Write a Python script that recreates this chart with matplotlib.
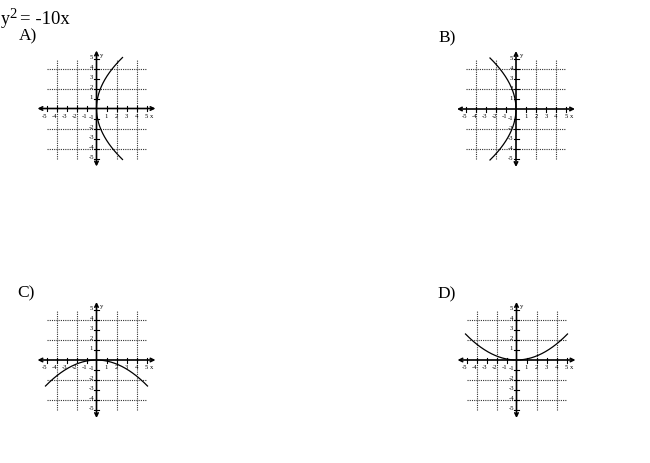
import numpy as np
import matplotlib
matplotlib.use('Agg')
import matplotlib.pyplot as plt

plt.rcParams['font.family'] = ['Liberation Serif', 'DejaVu Serif']

# answer choices and the parabola drawn in each
choices = ['A)', 'B)', 'C)', 'D)']
opens = ['right', 'left', 'down', 'up']      # direction the parabola opens
coef = [10, 10, 10, 10]                        # y^2 = 10x style, |4p|
curve_span = [5.1, 5.1, 5.1, 5.1]              # range of the free variable

ticks = [-5, -4, -3, -2, -1, 1, 2, 3, 4, 5]
grid_vals = [-4, -2, 2, 4]

# origin of each small graph, pixels from top-left
origins = [(96.5, 108.5), (516, 109), (96.5, 360), (516.5, 360)]
label_pos = [(19, 40.5), (438, 42), (17, 297.5), (437, 298.5)]

W, H = 650, 463
fig = plt.figure(figsize=(W / 100, H / 100), dpi=100)

# question
fig.text(0.5 / W, 1 - 24.5 / H, 'y', fontsize=13, ha='left', va='baseline')
fig.text(9.5 / W, 1 - 18.5 / H, '2', fontsize=10.5, ha='left', va='baseline')
fig.text(19.5 / W, 1 - 24.5 / H, '= -10x', fontsize=13.5, ha='left', va='baseline')

for name, op, c, span, (ox, oy), (lx, ly) in zip(choices, opens, coef, curve_span,
                                                   origins, label_pos):
    fig.text(lx / W, 1 - ly / H, name, fontsize=12.5, ha='left', va='baseline')

    ax = fig.add_axes([(ox - 60) / W, (H - oy - 60) / H, 120 / W, 120 / H])
    ax.set_xlim(-6, 6)
    ax.set_ylim(-6, 6)
    ax.axis('off')

    # dotted grid
    for g in grid_vals:
        ax.plot([g, g], [-5, 5], color='#333333', lw=0.8, ls=(0, (1, 1)))
        ax.plot([-5, 5], [g, g], color='#333333', lw=0.8, ls=(0, (1, 1)))

    # axes with arrows
    ax.annotate('', xy=(5.9, 0), xytext=(-5.9, 0),
                arrowprops=dict(arrowstyle='<->', lw=1.2, color='black',
                                mutation_scale=6, shrinkA=0, shrinkB=0))
    ax.annotate('', xy=(0, 5.8), xytext=(0, -5.8),
                arrowprops=dict(arrowstyle='<->', lw=1.2, color='black',
                                mutation_scale=6, shrinkA=0, shrinkB=0))

    for t in ticks:
        ax.plot([t, t], [-0.25, 0.25], color='black', lw=0.8)
        ax.plot([-0.25, 0.25], [t, t], color='black', lw=0.8)
        ax.text(t - (0.15 if t < 0 else 0), -0.75, str(t), fontsize=4.8,
                ha='center', va='center')
        ax.text(-0.5, t + 0.1, str(t), fontsize=4.8, ha='center', va='center')
    ax.text(5.55, -0.75, 'x', fontsize=4.8, ha='center', va='center')
    ax.text(0.55, 5.35, 'y', fontsize=4.8, ha='center', va='center')

    # the parabola
    s = np.linspace(-span, span, 200)
    if op == 'right':
        ax.plot(s ** 2 / c, s, color='black', lw=0.9)
    elif op == 'left':
        ax.plot(-s ** 2 / c, s, color='black', lw=0.9)
    elif op == 'down':
        ax.plot(s, -s ** 2 / c, color='black', lw=0.9)
    else:
        ax.plot(s, s ** 2 / c, color='black', lw=0.9)

fig.savefig('out.png', dpi=100)
